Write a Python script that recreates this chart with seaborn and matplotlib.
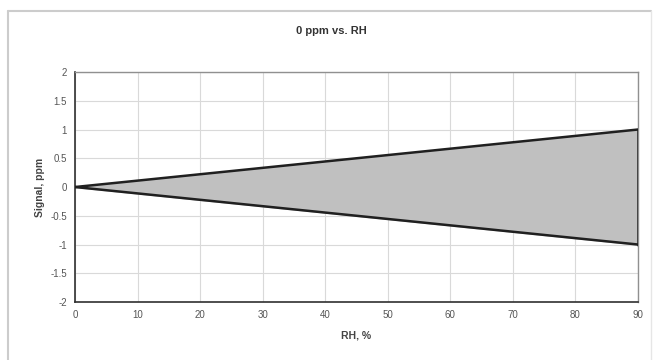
import matplotlib
matplotlib.use("Agg")
import matplotlib.pyplot as plt
import seaborn as sns
import pandas as pd
from matplotlib.lines import Line2D

# data
rh = [0, 90]
upper = [0, 1]
lower = [0, -1]
x_ticks = [0, 10, 20, 30, 40, 50, 60, 70, 80, 90]
y_ticks = [-2, -1.5, -1, -0.5, 0, 0.5, 1, 1.5, 2]
y_labels = ["-2", "-1.5", "-1", "-0.5", "0", "0.5", "1", "1.5", "2"]

sns.set_theme(style="whitegrid")
plt.rcParams["font.family"] = ["Liberation Sans", "DejaVu Sans"]

df = pd.DataFrame({"RH": rh + rh,
                   "Signal": upper + lower,
                   "edge": ["upper"] * len(rh) + ["lower"] * len(rh)})

fig = plt.figure(figsize=(6.53, 3.60), dpi=100, facecolor="white")
# chart frame (top, left, faint right; bottom cut off)
fig.lines.append(Line2D([0.013, 0.997], [0.969, 0.969], transform=fig.transFigure,
                        color="#cccccc", linewidth=1.5))
fig.lines.append(Line2D([0.013, 0.013], [0.0, 0.969], transform=fig.transFigure,
                        color="#cccccc", linewidth=1.5))
fig.lines.append(Line2D([0.997, 0.997], [0.0, 0.969], transform=fig.transFigure,
                        color="#e6e6e6", linewidth=1.0))
ax = fig.add_axes([0.1149, 0.161, 0.8622, 0.639])

ax.fill_between(rh, lower, upper, color="#c0c0c0", zorder=2)
sns.lineplot(data=df, x="RH", y="Signal", units="edge", estimator=None,
             color="#202020", linewidth=1.8, ax=ax, zorder=3)
ax.plot([rh[-1], rh[-1]], [lower[-1], upper[-1]], color="#202020", linewidth=1.8, zorder=3)

ax.set_xlim(0, 90)
ax.set_ylim(-2, 2)
ax.set_xticks(x_ticks)
ax.set_yticks(y_ticks)
ax.set_yticklabels(y_labels)
ax.grid(True, color="#d9d9d9", linewidth=0.8)
for side in ["left", "bottom"]:
    ax.spines[side].set_color("#303030")
    ax.spines[side].set_linewidth(1.2)
for side in ["top", "right"]:
    ax.spines[side].set_color("#909090")
    ax.spines[side].set_linewidth(1.0)
ax.tick_params(axis="both", labelsize=7, colors="#555555", length=0, pad=6)

fig.text(0.507, 0.914, "0 ppm vs. RH", fontsize=8, fontweight="bold",
         color="#333333", ha="center", va="center")
ax.set_xlabel("RH, %", fontsize=7.5, fontweight="bold", color="#444444", labelpad=7)
ax.set_ylabel("Signal, ppm", fontsize=7.5, fontweight="bold", color="#444444", labelpad=4)

fig.savefig("out.png", dpi=100, facecolor="white")
